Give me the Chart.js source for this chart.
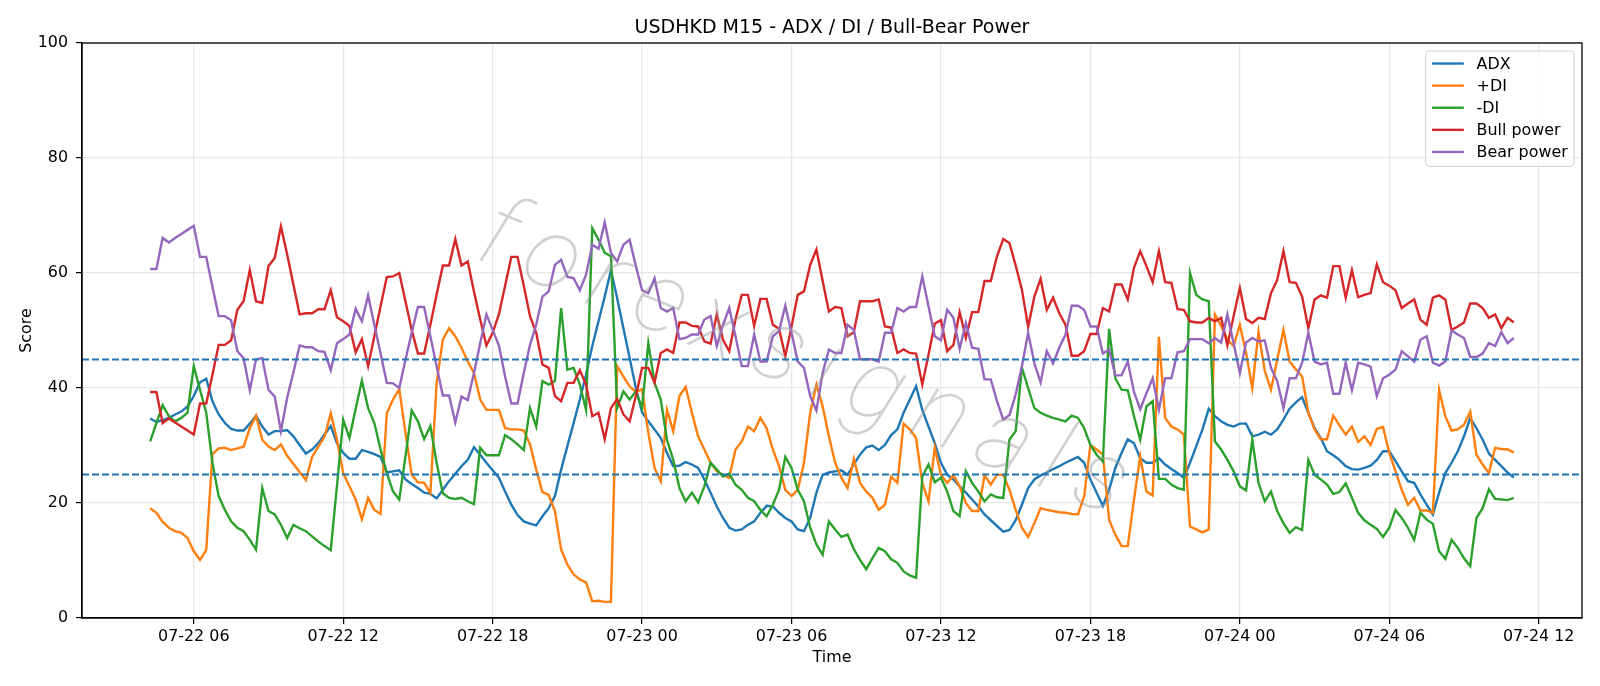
<!DOCTYPE html>
<html lang="en">
<head>
<meta charset="UTF-8">
<title>USDHKD M15 - ADX / DI / Bull-Bear Power</title>
<script src="https://cdn.jsdelivr.net/npm/chart.js@4"></script>
<style>
  html, body { margin: 0; padding: 0; background: #fff; }
  canvas { display: block; }
</style>
</head>
<body>
<canvas id="chart" width="1600" height="686"></canvas>
<script>
// M15 bars, first bar 07-22 04:15; x is hours after 07-22 00:00
const startHour = 4.25;
const stepHour = 0.25;

const adx = [
  34.7, 34.1, 34.4, 34.8, 35.4, 35.9, 36.8, 38.6, 41.0, 41.6, 37.7, 35.4, 33.9, 32.9, 32.6, 32.6, 33.8, 35.2, 33.3, 31.9,
  32.5, 32.5, 32.7, 31.6, 30.1, 28.6, 29.3, 30.4, 31.9, 33.4, 30.4, 28.7, 27.7, 27.7, 29.2, 28.9, 28.5, 28.0, 25.3, 25.5,
  25.7, 24.1, 23.3, 22.6, 21.8, 21.6, 20.8, 22.3, 23.8, 25.1, 26.4, 27.5, 29.7, 28.4, 27.0, 25.7, 24.4, 22.0, 19.7, 17.9,
  16.8, 16.4, 16.1, 17.7, 19.1, 21.2, 25.8, 29.9, 33.9, 38.0, 42.3, 47.3, 51.6, 55.9, 60.5, 55.6, 50.4, 45.2, 40.0, 35.8,
  34.2, 32.8, 31.3, 28.7, 26.4, 26.5, 27.1, 26.7, 26.1, 24.1, 21.8, 19.4, 17.4, 15.7, 15.2, 15.4, 16.2, 16.8, 18.3, 19.5,
  19.4, 18.3, 17.4, 16.8, 15.4, 15.1, 17.4, 21.8, 24.9, 25.3, 25.5, 25.7, 24.9, 26.7, 28.4, 29.7, 30.0, 29.2, 30.1, 31.8,
  32.8, 35.7, 38.0, 40.3, 36.2, 33.3, 30.4, 27.0, 24.9, 24.1, 22.9, 21.8, 20.6, 19.4, 18.0, 17.0, 16.0, 15.0, 15.3, 17.0,
  19.7, 22.6, 24.1, 24.8, 25.3, 25.9, 26.4, 27.0, 27.5, 28.0, 27.0, 24.1, 21.8, 19.5, 22.3, 26.1, 28.7, 31.1, 30.4, 27.8,
  27.0, 27.0, 27.8, 26.7, 25.9, 25.2, 24.4, 27.0, 29.9, 32.8, 36.4, 35.1, 34.2, 33.6, 33.3, 33.8, 33.8, 31.6, 31.9, 32.4,
  31.9, 32.8, 34.5, 36.4, 37.5, 38.4, 35.7, 33.0, 31.3, 29.0, 28.3, 27.5, 26.4, 25.9, 25.8, 26.1, 26.5, 27.5, 29.0, 29.0,
  27.3, 25.5, 23.8, 23.5, 21.5, 19.7, 18.0, 21.8, 25.2, 27.0, 29.0, 31.6, 34.8, 33.0, 31.0, 28.6, 27.5, 26.4, 25.3, 24.4
];

const plusDI = [
  19.1, 18.3, 16.7, 15.7, 15.1, 14.8, 13.9, 11.6, 10.1, 11.8, 28.5, 29.5, 29.6, 29.2, 29.5, 29.8, 33.0, 35.2, 31.0, 29.8,
  29.2, 30.2, 28.2, 26.8, 25.4, 24.0, 28.0, 29.8, 31.5, 35.6, 31.0, 25.2, 22.9, 20.6, 17.2, 20.9, 18.8, 18.1, 35.6, 38.0,
  39.8, 32.2, 24.9, 23.6, 23.5, 21.7, 40.9, 48.4, 50.4, 49.0, 47.0, 44.6, 42.6, 38.0, 36.2, 36.2, 36.2, 33.0, 32.8, 32.8,
  32.6, 30.2, 25.8, 21.9, 21.4, 18.6, 11.9, 9.3, 7.6, 6.7, 6.2, 2.9, 3.0, 2.8, 2.8, 43.8, 42.0, 40.3, 39.3, 39.8,
  32.2, 26.1, 23.8, 36.2, 32.5, 38.6, 40.2, 35.7, 31.6, 29.3, 27.0, 25.5, 24.9, 24.4, 29.3, 30.7, 33.3, 32.5, 34.8, 33.0,
  29.3, 26.4, 22.3, 21.2, 22.3, 27.0, 35.7, 40.6, 36.8, 31.6, 27.0, 24.4, 22.6, 27.7, 23.5, 22.0, 20.9, 18.8, 19.7, 24.6,
  23.5, 33.8, 32.8, 31.3, 23.5, 20.3, 29.6, 24.9, 23.5, 24.8, 22.9, 20.0, 18.6, 18.6, 24.8, 23.2, 24.9, 24.9, 22.3, 18.8,
  15.7, 14.1, 16.5, 19.1, 18.8, 18.6, 18.4, 18.3, 18.1, 18.0, 21.2, 30.1, 29.3, 28.4, 17.1, 14.5, 12.5, 12.5, 20.6, 28.1,
  22.0, 21.3, 48.9, 34.8, 33.3, 32.8, 31.9, 15.9, 15.4, 14.9, 15.4, 52.8, 50.8, 48.4, 47.3, 51.0, 46.1, 40.0, 49.7, 43.0,
  39.7, 44.9, 50.1, 44.6, 43.2, 42.0, 35.7, 32.8, 31.1, 31.1, 35.2, 33.5, 31.9, 33.3, 30.6, 31.6, 30.1, 32.9, 33.2, 28.7,
  25.5, 22.3, 19.7, 20.9, 18.7, 18.7, 18.3, 39.7, 35.1, 32.6, 32.8, 33.6, 35.9, 28.4, 26.7, 25.2, 29.6, 29.4, 29.3, 28.8
];

const minusDI = [
  30.7, 33.9, 37.0, 35.1, 34.2, 34.8, 35.7, 43.8, 39.7, 35.7, 27.0, 21.2, 18.8, 16.8, 15.7, 15.1, 13.6, 11.9, 22.6, 18.6,
  18.0, 16.2, 13.9, 16.2, 15.6, 15.1, 14.2, 13.3, 12.5, 11.8, 23.0, 34.5, 31.3, 36.4, 41.3, 36.5, 33.9, 29.3, 25.2, 22.0,
  20.6, 28.1, 36.1, 34.2, 31.1, 33.4, 27.0, 21.7, 20.9, 20.7, 20.9, 20.3, 19.8, 29.6, 28.3, 28.3, 28.3, 31.8, 31.1, 30.2,
  29.2, 36.5, 33.3, 41.2, 40.6, 41.2, 53.9, 43.2, 43.5, 40.6, 36.2, 67.8, 65.8, 63.5, 62.9, 36.5, 39.4, 38.0, 39.4, 36.5,
  47.8, 40.9, 38.0, 31.0, 27.5, 22.6, 20.3, 21.8, 20.1, 22.9, 27.0, 25.8, 24.6, 25.1, 23.2, 22.3, 20.9, 20.3, 18.8, 17.7,
  19.7, 22.3, 28.0, 26.1, 22.3, 20.3, 15.7, 12.8, 11.0, 16.8, 15.4, 14.1, 14.5, 12.0, 10.1, 8.5, 10.4, 12.2, 11.6, 10.2,
  9.6, 8.1, 7.4, 7.0, 24.6, 26.7, 23.6, 24.4, 22.0, 18.6, 17.7, 25.5, 23.5, 22.0, 20.3, 21.5, 21.0, 20.9, 31.0, 32.5,
  43.5, 40.0, 36.5, 35.7, 35.2, 34.8, 34.5, 34.2, 35.2, 34.8, 33.0, 30.1, 28.4, 27.2, 50.3, 41.7, 39.7, 39.6, 35.1, 31.0,
  36.8, 37.7, 24.2, 24.2, 23.2, 22.6, 22.3, 60.0, 56.2, 55.4, 55.1, 30.7, 29.3, 27.5, 25.5, 22.9, 22.2, 31.0, 23.5, 20.3,
  22.0, 18.6, 16.5, 14.8, 15.8, 15.3, 27.5, 24.9, 24.1, 23.2, 21.6, 21.9, 23.4, 20.9, 18.3, 17.0, 16.2, 15.5, 14.1, 15.7,
  18.8, 17.4, 15.7, 13.6, 18.3, 17.1, 16.4, 11.6, 10.3, 13.6, 12.2, 10.4, 9.0, 17.4, 19.1, 22.4, 20.7, 20.6, 20.5, 20.9
];

const bullPower = [
  39.3, 39.3, 33.9, 34.7, 34.0, 33.3, 32.6, 31.9, 37.3, 37.3, 42.3, 47.5, 47.5, 48.3, 53.6, 55.1, 60.5, 55.1, 54.8, 61.2,
  62.6, 68.1, 63.2, 58.0, 52.8, 53.0, 53.0, 53.7, 53.7, 57.0, 52.3, 51.6, 50.8, 46.2, 48.5, 43.8, 49.0, 54.2, 59.3, 59.4,
  60.0, 55.1, 50.1, 46.0, 46.0, 51.0, 56.2, 61.3, 61.3, 65.9, 61.3, 62.0, 56.8, 51.9, 47.4, 49.6, 52.8, 57.8, 62.8, 62.8,
  57.8, 52.5, 49.6, 44.1, 43.5, 38.6, 37.7, 40.9, 40.9, 43.1, 40.6, 35.1, 35.7, 31.1, 36.5, 38.1, 35.4, 34.2, 38.6, 43.5,
  43.5, 40.9, 46.1, 46.7, 46.1, 51.4, 51.4, 50.8, 50.7, 48.1, 47.7, 52.8, 48.4, 46.4, 51.9, 56.2, 56.2, 50.8, 55.5, 55.5,
  51.0, 50.3, 45.5, 50.7, 56.2, 56.8, 61.4, 64.1, 58.6, 53.3, 54.1, 53.9, 49.0, 49.7, 55.1, 55.1, 55.1, 55.4, 50.7, 50.5,
  46.1, 46.7, 46.1, 46.0, 40.6, 45.8, 51.2, 51.8, 46.4, 47.5, 53.2, 48.7, 53.2, 53.2, 58.6, 58.6, 62.9, 65.9, 65.2, 61.3,
  57.1, 50.6, 55.9, 59.0, 53.6, 55.7, 53.0, 51.0, 45.6, 45.6, 46.4, 49.4, 49.4, 53.9, 53.3, 58.0, 58.0, 55.4, 60.9, 63.8,
  61.2, 58.4, 63.8, 58.4, 58.3, 53.7, 53.6, 51.6, 51.4, 51.4, 52.2, 51.6, 52.2, 47.4, 52.5, 57.4, 52.0, 51.3, 52.2, 52.0,
  56.5, 58.8, 63.8, 58.4, 58.3, 55.9, 50.4, 55.4, 56.1, 55.7, 61.2, 61.2, 55.7, 60.5, 55.8, 56.2, 56.5, 61.5, 58.4, 57.8,
  57.0, 53.9, 54.7, 55.4, 51.9, 51.0, 55.7, 56.1, 55.4, 50.1, 50.7, 51.4, 54.7, 54.7, 53.9, 52.2, 52.8, 50.4, 52.2, 51.4
];

const bearPower = [
  60.7, 60.7, 66.1, 65.3, 66.1, 66.8, 67.5, 68.2, 62.8, 62.8, 57.6, 52.5, 52.5, 51.8, 46.4, 45.2, 39.6, 45.0, 45.2, 39.7,
  38.5, 32.5, 38.3, 42.7, 47.4, 47.1, 47.1, 46.4, 46.3, 43.1, 47.8, 48.5, 49.3, 53.8, 51.6, 56.1, 51.0, 46.0, 40.9, 40.8,
  40.0, 44.9, 49.6, 54.1, 54.1, 49.0, 43.8, 38.7, 38.7, 34.0, 38.5, 37.9, 42.6, 47.8, 52.8, 50.1, 47.4, 42.0, 37.3, 37.3,
  42.6, 47.5, 51.0, 55.9, 56.8, 61.4, 62.3, 59.3, 59.1, 57.0, 59.7, 64.9, 64.2, 68.8, 63.5, 62.0, 64.9, 65.8, 61.2, 57.0,
  56.5, 59.1, 53.9, 53.3, 53.9, 48.5, 48.7, 49.3, 49.3, 51.9, 52.5, 47.3, 51.0, 53.9, 49.0, 43.8, 43.8, 49.3, 44.6, 44.6,
  49.0, 49.9, 54.3, 49.6, 44.6, 43.5, 38.6, 36.1, 42.6, 46.7, 46.1, 46.1, 51.0, 50.1, 45.0, 45.0, 45.0, 44.6, 49.6, 49.6,
  53.9, 53.3, 54.1, 54.1, 59.4, 54.2, 49.0, 48.3, 53.6, 52.2, 46.8, 51.3, 47.0, 46.8, 41.5, 41.5, 37.7, 34.5, 35.3, 38.9,
  43.8, 49.6, 44.3, 41.0, 46.4, 44.3, 47.0, 49.3, 54.3, 54.3, 53.6, 50.7, 50.7, 46.0, 46.7, 42.2, 42.2, 44.6, 39.3, 36.3,
  39.1, 41.7, 36.2, 41.7, 41.7, 46.2, 46.4, 48.5, 48.5, 48.5, 47.8, 48.7, 47.9, 52.8, 47.8, 42.6, 47.9, 48.7, 48.1, 48.3,
  43.5, 41.2, 36.5, 41.7, 41.7, 44.4, 49.6, 44.6, 44.1, 44.4, 39.0, 39.0, 44.4, 39.6, 44.4, 44.1, 43.7, 38.6, 41.7, 42.3,
  43.2, 46.4, 45.5, 44.6, 48.4, 49.0, 44.4, 43.9, 44.6, 50.0, 49.3, 48.7, 45.4, 45.4, 46.0, 47.8, 47.3, 49.7, 47.8, 48.7
];

const seriesLabels = ['ADX', '+DI', '-DI', 'Bull power', 'Bear power'];
const seriesColors = ['#1f77b4', '#ff7f0e', '#2ca02c', '#d62728', '#9467bd'];
const tickHours = [6, 12, 18, 24, 30, 36, 42, 48, 54, 60];
const tickLabels = ['07-22 06', '07-22 12', '07-22 18', '07-23 00', '07-23 06',
                    '07-23 12', '07-23 18', '07-24 00', '07-24 06', '07-24 12'];
const levels = [45, 25];
const title = 'USDHKD M15 - ADX / DI / Bull-Bear Power';
const watermark = 'forexsignals';

const FONT = '"DejaVu Sans", "Liberation Sans", sans-serif';
const FS = 15.9;

const allSeries = [adx, plusDI, minusDI, bullPower, bearPower];
const toPoints = arr => arr.map((v, i) => ({ x: startHour + i * stepHour, y: v }));

// matplotlib-like 5% margins on the time axis
const xFirst = startHour, xLast = startHour + (adx.length - 1) * stepHour;
const xPad = (xLast - xFirst) * 0.05;

const levelLines = {
  id: 'levelLines',
  afterDatasetsDraw(chart) {
    const { ctx, chartArea: a, scales: { y } } = chart;
    ctx.save();
    // faint diagonal watermark over the plot
    ctx.translate(810, 367);
    ctx.rotate(22 * Math.PI / 180);
    ctx.font = 'italic 100 100px Roboto, ' + FONT;
    const natural = ctx.measureText(watermark).width;
    ctx.letterSpacing = Math.max(0, (690 - natural) / (watermark.length - 1)) + 'px';
    ctx.textAlign = 'center';
    ctx.textBaseline = 'middle';
    ctx.fillStyle = 'rgba(150,150,150,0.45)';
    ctx.fillText(watermark, 0, 0);
    ctx.restore();

    ctx.save();
    ctx.strokeStyle = '#1f77b4';
    ctx.lineWidth = 1.8;
    ctx.setLineDash([7, 3]);
    levels.forEach(lv => {
      const py = Math.round(y.getPixelForValue(lv)) + 0.5;
      ctx.beginPath();
      ctx.moveTo(a.left, py);
      ctx.lineTo(a.right, py);
      ctx.stroke();
    });
    ctx.restore();
  }
};

const decorations = {
  id: 'decorations',
  afterDraw(chart) {
    const { ctx, chartArea: a } = chart;
    ctx.save();
    // frame
    ctx.strokeStyle = '#000';
    ctx.lineWidth = 1.3;
    ctx.strokeRect(a.left, a.top, a.right - a.left, a.bottom - a.top);

    // title and axis labels
    ctx.fillStyle = '#000';
    ctx.textAlign = 'center';
    ctx.textBaseline = 'alphabetic';
    ctx.font = '19px ' + FONT;
    ctx.fillText(title, (a.left + a.right) / 2, 32.5);
    ctx.font = FS + 'px ' + FONT;
    ctx.fillText('Time', (a.left + a.right) / 2, 662);
    ctx.save();
    ctx.translate(31, (a.top + a.bottom) / 2);
    ctx.rotate(-Math.PI / 2);
    ctx.fillText('Score', 0, 0);
    ctx.restore();

    // legend, upper right
    const pad = 0.4 * FS, handle = 2 * FS, gap = 0.8 * FS, rowH = 22.1;
    const textW = Math.max(...seriesLabels.map(t => ctx.measureText(t).width));
    const w = pad + handle + gap + textW + pad;
    const h = 115.3;
    const x0 = a.right - 0.5 * FS - w, y0 = a.top + 0.5 * FS;
    const r = 3.5;
    ctx.beginPath();
    ctx.moveTo(x0 + r, y0);
    ctx.arcTo(x0 + w, y0, x0 + w, y0 + h, r);
    ctx.arcTo(x0 + w, y0 + h, x0, y0 + h, r);
    ctx.arcTo(x0, y0 + h, x0, y0, r);
    ctx.arcTo(x0, y0, x0 + w, y0, r);
    ctx.closePath();
    ctx.fillStyle = 'rgba(255,255,255,0.8)';
    ctx.fill();
    ctx.strokeStyle = '#d0d0d0';
    ctx.lineWidth = 1;
    ctx.stroke();
    ctx.textAlign = 'left';
    ctx.textBaseline = 'middle';
    seriesLabels.forEach((lab, k) => {
      const cy = y0 + 12.6 + k * rowH;
      ctx.strokeStyle = seriesColors[k];
      ctx.lineWidth = 2.4;
      ctx.beginPath();
      ctx.moveTo(x0 + pad, cy);
      ctx.lineTo(x0 + pad + handle, cy);
      ctx.stroke();
      ctx.fillStyle = '#000';
      ctx.fillText(lab, x0 + pad + handle + gap, cy + 1);
    });
    ctx.restore();
  }
};

new Chart(document.getElementById('chart'), {
  type: 'line',
  data: {
    datasets: allSeries.map((arr, k) => ({
      label: seriesLabels[k],
      data: toPoints(arr),
      borderColor: seriesColors[k],
      backgroundColor: seriesColors[k],
      borderWidth: 2.4,
      pointRadius: 0,
      tension: 0,
      fill: false,
      order: allSeries.length - k
    }))
  },
  options: {
    responsive: false,
    animation: false,
    devicePixelRatio: 1,
    layout: { padding: { top: 43, right: 18, left: 0, bottom: 0 } },
    plugins: {
      legend: { display: false },
      title: { display: false },
      tooltip: { enabled: false }
    },
    scales: {
      x: {
        type: 'linear',
        min: xFirst - xPad,
        max: xLast + xPad,
        afterFit: s => { s.height = 68; },
        afterBuildTicks: s => { s.ticks = tickHours.map(v => ({ value: v })); },
        ticks: {
          callback: (v, i) => tickLabels[i],
          color: '#000',
          font: { family: FONT, size: FS },
          padding: 3,
          maxRotation: 0,
          autoSkip: false
        },
        grid: { color: 'rgba(176,176,176,0.3)', lineWidth: 1.2, tickColor: '#000', tickLength: 6 },
        border: { color: '#000', width: 1.3 }
      },
      y: {
        min: 0,
        max: 100,
        afterFit: s => { s.width = 82; },
        ticks: {
          stepSize: 20,
          color: '#000',
          font: { family: FONT, size: FS },
          padding: 8
        },
        grid: { color: 'rgba(176,176,176,0.3)', lineWidth: 1.2, tickColor: '#000', tickLength: 6 },
        border: { color: '#000', width: 1.3 }
      }
    }
  },
  plugins: [levelLines, decorations]
});
</script>
</body>
</html>
